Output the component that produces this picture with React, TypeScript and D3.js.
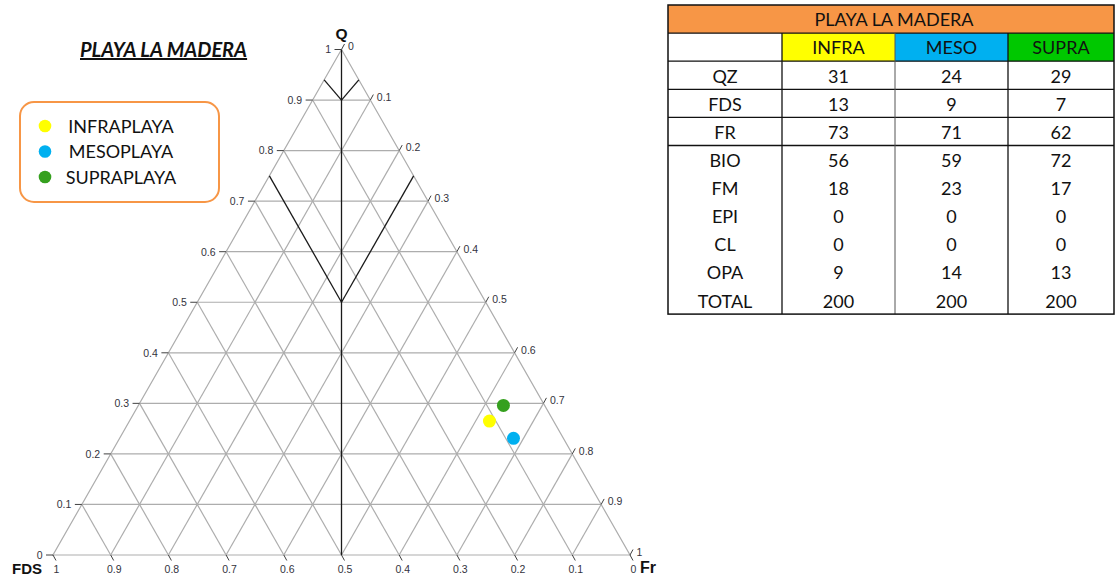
import React from 'react';
import * as d3 from 'd3';

// ---------- data ----------
const ROWS = ['QZ', 'FDS', 'FR', 'BIO', 'FM', 'EPI', 'CL', 'OPA', 'TOTAL'];
const ZONES = ['INFRA', 'MESO', 'SUPRA'];
const INFRA = [31, 13, 73, 56, 18, 0, 0, 9, 200];
const MESO = [24, 9, 71, 59, 23, 0, 0, 14, 200];
const SUPRA = [29, 7, 62, 72, 17, 0, 0, 13, 200];
const LEGEND = ['INFRAPLAYA', 'MESOPLAYA', 'SUPRAPLAYA'];
const TITLE = 'PLAYA LA MADERA';
const TICKS = [0, 0.1, 0.2, 0.3, 0.4, 0.5, 0.6, 0.7, 0.8, 0.9, 1];
const TICK_LABELS = ['0', '0.1', '0.2', '0.3', '0.4', '0.5', '0.6', '0.7', '0.8', '0.9', '1'];
const GRID = [0.1, 0.2, 0.3, 0.4, 0.5, 0.6, 0.7, 0.8, 0.9];
// classification boundaries as [Q, F, R] pairs
const FIELD_LINES: number[][][] = [
  [[1, 0, 0], [0, 0.5, 0.5]],
  [[0.5, 0.25, 0.25], [0.75, 0.25, 0]],
  [[0.5, 0.25, 0.25], [0.75, 0, 0.25]],
  [[0.9, 0.05, 0.05], [0.94, 0.06, 0]],
  [[0.9, 0.05, 0.05], [0.94, 0, 0.06]],
];

// ---------- styles ----------
const POINT_COLORS = ['#FFFF00', '#00B0F0', '#35A01E'];
const HEADER_COLORS = ['#FFFF00', '#00B0F0', '#00C800'];
const ORANGE = '#F79646';
const GRID_COLOR = '#ADADAD';
const TICK_COLOR = '#33333d';
const AX_FONT = '"Liberation Sans", Arial, sans-serif';
const UI_FONT = 'Lato, "Open Sans", sans-serif';

const bx = d3.scaleLinear().domain([0, 1]).range([53, 630]);
const qy = d3.scaleLinear().domain([0, 1]).range([555, 49.5]);
const pt = (q: number, f: number, r: number): [number, number] => {
  const s = q + f + r;
  const Q = q / s, R = r / s;
  return [bx(R + Q / 2), qy(Q)];
};
const line = d3.line();

// table layout
const colEdges = [668, 782, 895, 1008, 1114];
const tTop = 5;
const rowH = 28.1;
const zoneValues = [INFRA, MESO, SUPRA];

export default function App() {
  const triangle = line([pt(1, 0, 0), pt(0, 1, 0), pt(0, 0, 1), pt(1, 0, 0)]) || '';
  const nRows = ROWS.length + 2;
  const tBottom = tTop + nRows * rowH;
  return (
    <svg width={1115} height={578} style={{ position: 'absolute', left: 0, top: 0, background: '#fff' }}>
      {/* grid */}
      <g stroke={GRID_COLOR} strokeWidth={1.2} fill="none">
        {GRID.map((t) => (
          <g key={'g' + t}>
            <path d={line([pt(t, 1 - t, 0), pt(t, 0, 1 - t)]) || ''} />
            <path d={line([pt(0, t, 1 - t), pt(1 - t, t, 0)]) || ''} />
            <path d={line([pt(0, 1 - t, t), pt(1 - t, 0, t)]) || ''} />
          </g>
        ))}
        <path d={triangle} />
      </g>
      {/* field boundaries */}
      <g stroke="#1a1a1a" strokeWidth={1.3} fill="none">
        {FIELD_LINES.map((l, i) => (
          <path key={'f' + i} d={line(l.map((p) => pt(p[0], p[1], p[2]))) || ''} />
        ))}
      </g>
      {/* ticks */}
      <g stroke="#404040" strokeWidth={1} fill="none">
        {TICKS.map((t, i) => {
          const l = pt(t, 1 - t, 0);
          const r = pt(1 - t, 0, t);
          const b = pt(0, t, 1 - t);
          return (
            <g key={'t' + i}>
              <path d={line([l, [l[0] - 7, l[1]]]) || ''} />
              <path d={line([r, [r[0] + 3, r[1] - 5.5]]) || ''} />
              <path d={line([b, [b[0] + 3, b[1] + 5.5]]) || ''} />
            </g>
          );
        })}
      </g>
      <g fontFamily={AX_FONT} fontSize={10.5} fill={TICK_COLOR}>
        {TICKS.map((t, i) => {
          const l = pt(t, 1 - t, 0);
          const r = pt(1 - t, 0, t);
          const b = pt(0, t, 1 - t);
          return (
            <g key={'tl' + i}>
              <text x={l[0] - 10.5} y={l[1] + 3.8} textAnchor="end">{TICK_LABELS[i]}</text>
              <text x={r[0] + 6.5} y={r[1] + 0.8} textAnchor="start">{TICK_LABELS[i]}</text>
              <text x={b[0] + 3.5} y={b[1] + 18} textAnchor="middle">{TICK_LABELS[i]}</text>
            </g>
          );
        })}
      </g>
      {/* axis titles */}
      <g fontFamily={AX_FONT} fontWeight="bold" fill="#111">
        <text x={pt(1, 0, 0)[0]} y={38.5} fontSize={15.5} textAnchor="middle">Q</text>
        <text x={12} y={574} fontSize={15}>FDS</text>
        <text x={640} y={573} fontSize={16}>Fr</text>
      </g>
      {/* points */}
      {zoneValues.map((v, i) => {
        const p = pt(v[0], v[1], v[2]);
        return <circle key={'p' + i} cx={p[0]} cy={p[1]} r={6.5} fill={POINT_COLORS[i]} />;
      })}
      {/* title */}
      <text x={80} y={57} fontFamily={UI_FONT} fontWeight="bold" fontStyle="italic" fontSize={20}
        fill="#111" textDecoration="underline">{TITLE}</text>
      {/* legend */}
      <rect x={20} y={102} width={199} height={100} rx={14} fill="#fff" stroke={ORANGE} strokeWidth={2} />
      {LEGEND.map((name, i) => (
        <g key={'l' + i}>
          <circle cx={45} cy={126 + i * 25.5} r={6.3} fill={POINT_COLORS[i]} />
          <text x={121} y={126 + i * 25.5 + 6.5} textAnchor="middle" fontFamily={UI_FONT} fontSize={18} fill="#111">{name}</text>
        </g>
      ))}
      {/* table */}
      <g fontFamily={UI_FONT} fontSize={18} fill="#111">
        <rect x={colEdges[0]} y={tTop} width={colEdges[4] - colEdges[0]} height={rowH} fill={ORANGE} />
        {ZONES.map((z, i) => (
          <rect key={'hc' + i} x={colEdges[i + 1]} y={tTop + rowH} width={colEdges[i + 2] - colEdges[i + 1]} height={rowH} fill={HEADER_COLORS[i]} />
        ))}
        <text x={(colEdges[0] + colEdges[4]) / 2 + 3} y={tTop + 21} textAnchor="middle">{TITLE}</text>
        {ZONES.map((z, i) => (
          <text key={'hz' + i} x={(colEdges[i + 1] + colEdges[i + 2]) / 2} y={tTop + rowH + 21} textAnchor="middle">{z}</text>
        ))}
        {ROWS.map((r, j) => {
          const y = tTop + (j + 2) * rowH + 21.5;
          return (
            <g key={'r' + j}>
              <text x={(colEdges[0] + colEdges[1]) / 2} y={y} textAnchor="middle">{r}</text>
              {zoneValues.map((v, i) => (
                <text key={'c' + i} x={(colEdges[i + 1] + colEdges[i + 2]) / 2} y={y} textAnchor="middle">{v[j]}</text>
              ))}
            </g>
          );
        })}
        {/* rules */}
        <g stroke="#111" strokeWidth={1.3}>
          {[1, 2, 3, 4, 5].map((k) => (
            <line key={'h' + k} x1={colEdges[0]} x2={colEdges[4]} y1={tTop + k * rowH} y2={tTop + k * rowH} />
          ))}
          {[1, 2, 3].map((k) => (
            <line key={'v' + k} x1={colEdges[k]} x2={colEdges[k]} y1={tTop + rowH} y2={tBottom}
              stroke={k === 2 ? '#555' : '#111'} strokeWidth={k === 2 ? 1 : 1.3} />
          ))}
        </g>
        <rect x={colEdges[0]} y={tTop} width={colEdges[4] - colEdges[0]} height={tBottom - tTop} fill="none" stroke="#111" strokeWidth={1.5} />
      </g>
    </svg>
  );
}
